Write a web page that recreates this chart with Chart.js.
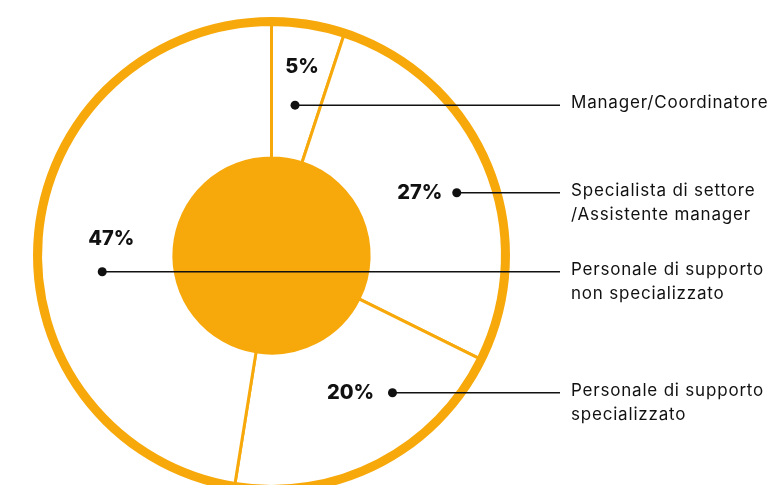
<!DOCTYPE html>
<html lang="it">
<head>
<meta charset="UTF-8">
<title>Profili professionali</title>
<script src="https://cdn.jsdelivr.net/npm/chart.js"></script>
<style>
  html, body { margin: 0; padding: 0; background: #fff; overflow: hidden; }
  #wrap { position: absolute; left: 0; top: 0; width: 773px; height: 500px; }
</style>
</head>
<body>
<div id="wrap"><canvas id="pie" width="773" height="500"></canvas></div>
<script>
// slices, clockwise from 12 o'clock
const categories = [
  ['Manager/Coordinatore'],
  ['Specialista di settore', '/Assistente manager'],
  ['Personale di supporto', 'specializzato'],
  ['Personale di supporto', 'non specializzato']
];
const shares = [5, 27, 20, 47];

// callout dot in polar form: degrees clockwise from top, fraction of outer radius
const dotAngle = [8.9, 71.3, 138.6, 264.5];
const dotRadius = [0.638, 0.82, 0.767, 0.713];
// percentage text centre, relative to its dot
const pctOffset = [[7, -38], [-37, 0], [-42, 0], [9, -33]];

const ORANGE = '#F7A90B';
const INK = '#111111';

const callouts = {
  id: 'callouts',
  afterDraw(chart) {
    const ctx = chart.ctx;
    const arc = chart.getDatasetMeta(1).data[0];
    const cx = arc.x, cy = arc.y;
    const R = chart.getDatasetMeta(0).data[0].outerRadius;
    const lineEnd = 560, textX = 571;

    ctx.save();
    shares.forEach((v, i) => {
      const a = dotAngle[i] * Math.PI / 180;
      const x = cx + Math.sin(a) * R * dotRadius[i];
      const y = cy - Math.cos(a) * R * dotRadius[i];

      ctx.strokeStyle = INK;
      ctx.lineWidth = 1.5;
      ctx.beginPath();
      ctx.moveTo(x, y);
      ctx.lineTo(lineEnd, y);
      ctx.stroke();

      ctx.fillStyle = INK;
      ctx.beginPath();
      ctx.arc(x, y, 4.5, 0, Math.PI * 2);
      ctx.fill();

      ctx.letterSpacing = '0px';
      ctx.font = '800 20px Inter';
      ctx.textAlign = 'center';
      ctx.textBaseline = 'middle';
      ctx.fillText(v + '%', x + pctOffset[i][0], y + pctOffset[i][1]);

      ctx.letterSpacing = '0.8px';
      ctx.font = '400 17px Inter';
      ctx.textAlign = 'left';
      categories[i].forEach((line, j) => {
        ctx.fillText(line, textX, y - 2 + j * 24);
      });
    });
    ctx.restore();
  }
};

new Chart(document.getElementById('pie'), {
  type: 'pie',
  data: {
    labels: categories.map(c => c.join(' ')),
    datasets: [
      // outer rim
      { data: [1], backgroundColor: ORANGE, borderWidth: 0, weight: 7.5 },
      { data: shares, backgroundColor: '#ffffff', borderColor: ORANGE, borderWidth: 3, weight: 132.5 },
      // solid hub
      { data: [1], backgroundColor: ORANGE, borderWidth: 0, weight: 97 }
    ]
  },
  options: {
    responsive: false,
    animation: false,
    events: [],
    layout: { padding: { left: 33, top: 17, right: 263, bottom: 6 } },
    plugins: { legend: { display: false }, tooltip: { enabled: false } }
  },
  plugins: [callouts]
});
</script>
</body>
</html>
